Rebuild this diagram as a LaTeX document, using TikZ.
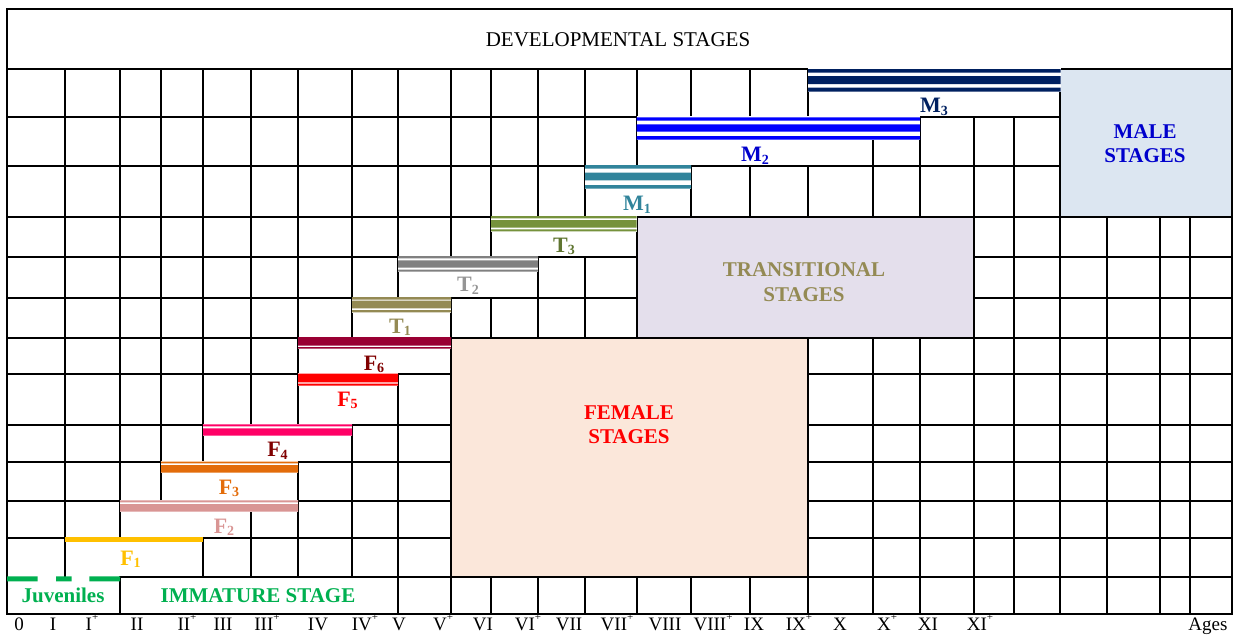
\documentclass[tikz,border=0pt]{standalone}
\usepackage{fontspec}
\setmainfont{Liberation Serif}
\definecolor{cMthree}{HTML}{002060}
\definecolor{cMtwo}{HTML}{0000FF}
\definecolor{cMone}{HTML}{31849B}
\definecolor{cTthree}{HTML}{76923C}
\definecolor{cTthreeTxt}{HTML}{5F7530}
\definecolor{cTtwo}{HTML}{808080}
\definecolor{cTtwoTxt}{HTML}{959595}
\definecolor{cTone}{HTML}{948A54}
\definecolor{cFsix}{HTML}{990033}
\definecolor{cFfive}{HTML}{FF0000}
\definecolor{cFfour}{HTML}{FF0066}
\definecolor{cFthree}{HTML}{E36C0A}
\definecolor{cFtwo}{HTML}{D99594}
\definecolor{cFone}{HTML}{FFC000}
\definecolor{cJuv}{HTML}{00B050}
\definecolor{cFemFill}{HTML}{FBE7DA}
\definecolor{cTrFill}{HTML}{E4DFEC}
\definecolor{cMaleFill}{HTML}{DCE6F1}
\definecolor{cMaleTxt}{HTML}{0000CC}
\definecolor{cMaroon}{HTML}{800000}
\newcommand\vrow[3]{\foreach \xx in {#3}{\draw[gridline] (\xx,#1) -- (\xx,#2);}}
\newcommand\hrow[3]{\draw[gridline] (#2,#1) -- (#3,#1);}
\newcommand\barlab[2]{\bfseries #1\raisebox{-2.5pt}{\fontsize{14}{14}\selectfont #2}}
\newcommand\agelab[1]{#1\raisebox{0.5em}{\fontsize{11}{11}\selectfont +}}
\begin{document}
\begin{tikzpicture}[x=1pt,y=-1pt,
  gridline/.style={line width=1.5pt,line cap=rect,black},
  boxedge/.style={line width=1.5pt,black},
  stagelab/.style={font=\fontsize{21}{24.3}\selectfont\bfseries,align=center,anchor=base,inner sep=0pt},
  barl/.style={font=\fontsize{22}{24}\selectfont,anchor=base,inner sep=0pt},
  agel/.style={font=\fontsize{19}{22}\selectfont,anchor=base,inner sep=0pt}]
\useasboundingbox (0,0) rectangle (1234,637);
% shaded boxes
\fill[cFemFill] (451,338) rectangle (808,577);
\fill[cTrFill] (637,217) rectangle (974,338);
\fill[cMaleFill] (1060,69) rectangle (1232,217);
% horizontal lines
\hrow{69}{7}{1232}
\hrow{117}{7}{1060}
\hrow{166}{7}{1060}
\hrow{217}{7}{1232}
\hrow{257}{7}{637}\hrow{257}{974}{1232}
\hrow{298}{7}{637}\hrow{298}{974}{1232}
\hrow{338}{7}{1232}
\foreach \yy in {374,425,462,501,538}{\hrow{\yy}{7}{451}\hrow{\yy}{808}{1232}}
\hrow{577}{120}{1232}
% vertical lines per row
\vrow{69}{117}{65,120,161,203,251,298,352,398,451,491,538,585,637,691,750,808,1060}
\vrow{117}{166}{65,120,161,203,251,298,352,398,451,491,538,585,637,920,974,1014,1060}
\vrow{140}{166}{873}
\vrow{166}{217}{65,120,161,203,251,298,352,398,451,491,538,585,691,750,808,873,920,974,1014,1060}
\vrow{217}{257}{65,120,161,203,251,298,352,398,451,491,1014,1060,1107,1160,1190}
\vrow{257}{298}{65,120,161,203,251,298,352,398,538,585,1014,1060,1107,1160,1190}
\vrow{298}{338}{65,120,161,203,251,298,352,451,491,538,585,1014,1060,1107,1160,1190}
\vrow{338}{374}{65,120,161,203,251,298,873,920,974,1014,1060,1107,1160,1190}
\vrow{374}{425}{65,120,161,203,251,298,398,873,920,974,1014,1060,1107,1160,1190}
\vrow{425}{462}{65,120,161,203,352,398,873,920,974,1014,1060,1107,1160,1190}
\vrow{462}{501}{65,120,161,298,352,398,873,920,974,1014,1060,1107,1160,1190}
\vrow{501}{538}{65,120,298,352,398,873,920,974,1014,1060,1107,1160,1190}
\vrow{512}{538}{251}
\vrow{538}{577}{65,203,251,298,352,398,873,920,974,1014,1060,1107,1160,1190}
\vrow{577}{614}{120,398,451,491,538,585,637,691,750,808,873,920,974,1014,1060,1107,1160,1190}
% box edges and outer border
\draw[boxedge] (451,338) rectangle (808,577);
\draw[boxedge] (637,217) rectangle (974,338);
\draw[boxedge] (1060,69) rectangle (1232,217);
\draw[boxedge] (7,9) rectangle (1232,614);
% bars: male
\fill[white] (808,68) rectangle (1060.5,92);
\fill[cMthree] (808,69) rectangle (1060.5,72.7) (808,76) rectangle (1060.5,84) (808,87.7) rectangle (1060.5,91.7);
\fill[white] (636.5,116) rectangle (920,140);
\fill[cMtwo] (636.5,117.3) rectangle (920,120.7) (636.5,124.3) rectangle (920,131.7) (636.5,136) rectangle (920,139.7);
\fill[white] (585,165) rectangle (691,189);
\fill[cMone] (585,165) rectangle (691,168.7) (585,172.7) rectangle (691,180.3) (585,185) rectangle (691,188.7);
% transitional
\fill[white] (491,216) rectangle (636.5,232);
\fill[cTthree] (491,216) rectangle (636.5,218.3) (491,220) rectangle (636.5,227.7) (491,229.3) rectangle (636.5,231.3);
\fill[white] (398,256) rectangle (538,272);
\fill[cTtwo] (398,256) rectangle (538,258.3) (398,260.3) rectangle (538,267.7) (398,269.7) rectangle (538,271.7);
\fill[white] (352,297) rectangle (451,313);
\fill[cTone] (352,297) rectangle (451,299.7) (352,300.7) rectangle (451,308.3) (352,310) rectangle (451,312.3);
% female
\fill[white] (298,337) rectangle (451,349);
\fill[cFsix] (298,337.2) rectangle (451,345.7) (298,347) rectangle (451,348.7);
\fill[white] (298,373) rectangle (398,386);
\fill[cFfive] (298,373.5) rectangle (398,382.3) (298,383.7) rectangle (398,385.7);
\fill[white] (203,424) rectangle (352,436);
\fill[cFfour] (203,424.3) rectangle (352,426.3) (203,428.3) rectangle (352,435.7);
\fill[white] (161,461) rectangle (298,473);
\fill[cFthree] (161,461.5) rectangle (298,463.3) (161,465) rectangle (298,472.7);
\fill[white] (120,500) rectangle (298,512);
\fill[cFtwo] (120,500.3) rectangle (298,502.3) (120,504) rectangle (298,511.7);
\fill[cFone] (65,537) rectangle (203,542);
% juveniles dashes
\fill[cJuv] (7,576.3) rectangle (37.7,581.3) (56,576.3) rectangle (71.7,581.3) (89.3,576.3) rectangle (120,581.3);
% title
\node[font=\fontsize{21}{24}\selectfont,anchor=base,inner sep=0pt] (title) at (618,46.7) {DEVELOPMENTAL STAGES};
% stage boxes labels (base = baseline of the last line)
\node[stagelab,text=cMaleTxt] (male) at (1145,162.3) {MALE\\STAGES};
\node[stagelab,text=cTone] (trans) at (804,301) {TRANSITIONAL\\STAGES};
\node[stagelab,text=cFfive] (female) at (629,443.3) {FEMALE\\STAGES};
\node[stagelab,text=cJuv] (juv) at (63,602.7) {Juveniles};
\node[stagelab,text=cJuv] (immat) at (258,602.7) {IMMATURE STAGE};
% bar labels
\node[barl,text=cMthree] (lM3) at (934,112.7) {\barlab{M}{3}};
\node[barl,text=cMaleTxt] (lM2) at (755,161.7) {\barlab{M}{2}};
\node[barl,text=cMone] (lM1) at (637,210.7) {\barlab{M}{1}};
\node[barl,text=cTthreeTxt] (lT3) at (564,252) {\barlab{T}{3}};
\node[barl,text=cTtwoTxt] (lT2) at (468,291.7) {\barlab{T}{2}};
\node[barl,text=cTone] (lT1) at (400,333) {\barlab{T}{1}};
\node[barl,text=cMaroon] (lF6) at (374,370) {\barlab{F}{6}};
\node[barl,text=cFfive] (lF5) at (347.5,406) {\barlab{F}{5}};
\node[barl,text=cMaroon] (lF4) at (277.5,456.7) {\barlab{F}{4}};
\node[barl,text=cFthree] (lF3) at (229,494) {\barlab{F}{3}};
\node[barl,text=cFtwo] (lF2) at (224,533) {\barlab{F}{2}};
\node[barl,text=cFone] (lF1) at (130.5,565) {\barlab{F}{1}};
% age axis
\node[agel] (a0) at (19,630) {0};
\node[agel] (a1) at (53,630) {I};
\node[agel] (a1p) at (92,630) {\agelab{I}};
\node[agel] (a2) at (137,630) {II};
\node[agel] (a2p) at (187,630) {\agelab{II}};
\node[agel] (a3) at (223,630) {III};
\node[agel] (a3p) at (267,630) {\agelab{III}};
\node[agel] (a4) at (318,630) {IV};
\node[agel] (a4p) at (365,630) {\agelab{IV}};
\node[agel] (a5) at (399,630) {V};
\node[agel] (a5p) at (443,630) {\agelab{V}};
\node[agel] (a6) at (483,630) {VI};
\node[agel] (a6p) at (528,630) {\agelab{VI}};
\node[agel] (a7) at (569,630) {VII};
\node[agel] (a7p) at (617,630) {\agelab{VII}};
\node[agel] (a8) at (665,630) {VIII};
\node[agel] (a8p) at (713,630) {\agelab{VIII}};
\node[agel] (a9) at (754,630) {IX};
\node[agel] (a9p) at (799,630) {\agelab{IX}};
\node[agel] (a10) at (840,630) {X};
\node[agel] (a10p) at (887,630) {\agelab{X}};
\node[agel] (a11) at (928,630) {XI};
\node[agel] (a11p) at (980,630) {\agelab{XI}};
\node[agel] (ages) at (1208,630) {Ages};
\end{tikzpicture}
\end{document}
